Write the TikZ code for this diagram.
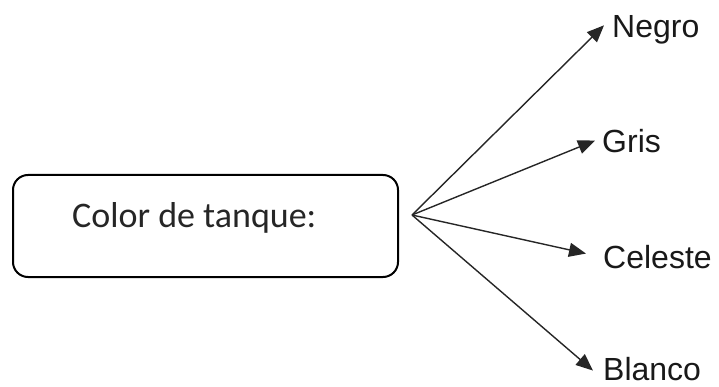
\documentclass[tikz,border=0pt]{standalone}
\usepackage{fontspec}
\setmainfont{Liberation Sans}
\newfontfamily\calibfont{Carlito}
\usetikzlibrary{arrows.meta}
\begin{document}
\begin{tikzpicture}[x=1pt,y=-1pt,
  framebox/.style={draw=black,line width=2pt,rounded corners=15pt,
    minimum width=385pt,minimum height=102pt,inner sep=0pt},
  boxtext/.style={font=\calibfont\fontsize{36}{42}\selectfont,inner sep=0pt,anchor=base west,text=black!85},
  choice/.style={font=\fontsize{32}{38}\selectfont,inner sep=0pt,anchor=base west,text=black!90},
  link/.style={draw=black!85,line width=1.4pt,-{Triangle[length=17pt,width=14pt]}}]
  \useasboundingbox (0,0) rectangle (719,387);
  % main box with its caption
  \node[framebox] (box) at (205.5,226) {};
  \node[boxtext] (caption) at (72,227) {Color de tanque:};
  % branching point of the arrows
  \coordinate (hub) at (412,215);
  % options
  \node[choice] (negro) at (612,38) {Negro};
  \node[choice] (gris) at (602,153) {Gris};
  \node[choice] (celeste) at (603,268) {Celeste};
  \node[choice] (blanco) at (603,380) {Blanco};
  % arrows
  \draw[link] (hub) -- ([xshift=-8pt,yshift=5pt]negro.west);
  \draw[link] (hub) -- ([xshift=-7pt,yshift=1pt]gris.west);
  \draw[link] (hub) -- ([xshift=-17pt,yshift=3pt]celeste.west);
  \draw[link] (hub) -- ([xshift=-10pt,yshift=-2pt]blanco.west);
\end{tikzpicture}
\end{document}
